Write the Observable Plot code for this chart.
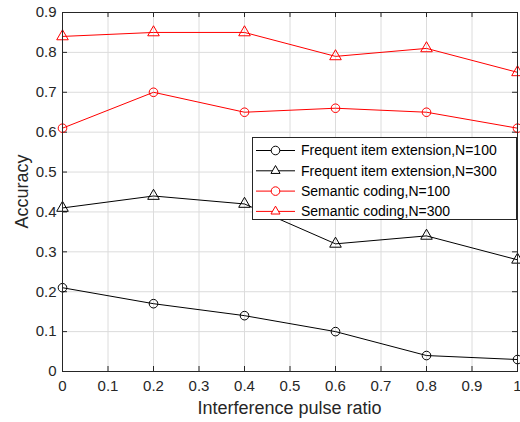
<!DOCTYPE html>
<html><head><meta charset="utf-8">
<script src="https://cdn.jsdelivr.net/npm/d3@7"></script>
<script src="https://cdn.jsdelivr.net/npm/@observablehq/plot@0.6"></script>
<style>body{margin:0;background:#fff;font-family:"Liberation Sans",Arial,sans-serif}</style>
</head><body><div id="chart"></div>
<script>
const ratios = [0, 0.2, 0.4, 0.6, 0.8, 1];
const freqN100 = [0.21, 0.17, 0.14, 0.10, 0.04, 0.03];
const freqN300 = [0.41, 0.44, 0.42, 0.32, 0.34, 0.28];
const semN100 = [0.61, 0.70, 0.65, 0.66, 0.65, 0.61];
const semN300 = [0.84, 0.85, 0.85, 0.79, 0.81, 0.75];
const seriesNames = ["Frequent item extension,N=100","Frequent item extension,N=300","Semantic coding,N=100","Semantic coding,N=300"];
const seriesColors = ["#000000","#000000","#ff0000","#ff0000"];
const seriesSymbols = ["circle","triangle","circle","triangle"];
const xTicks = [0,0.1,0.2,0.3,0.4,0.5,0.6,0.7,0.8,0.9,1];
const yTicks = [0,0.1,0.2,0.3,0.4,0.5,0.6,0.7,0.8,0.9];

const allSeries = [freqN100, freqN300, semN100, semN300];
const rows = [];
allSeries.forEach((vals, s) => vals.forEach((v, i) => rows.push({series: seriesNames[s], x: ratios[i], y: v, color: seriesColors[s], symbol: seriesSymbols[s]})));

const W = 520, H = 422, mL = 62, mR = 3, mT = 12, mB = 51;
const axisColor = "#262626";
const plotH = H - mT - mB;
const plotW = W - mL - mR;

const chart = Plot.plot({
  width: W, height: H,
  marginLeft: mL, marginRight: mR, marginTop: mT, marginBottom: mB,
  style: {fontFamily: '"Liberation Sans", Arial, sans-serif', background: "white"},
  x: {domain: [0, 1], ticks: xTicks},
  y: {domain: [0, 0.9], ticks: yTicks},
  marks: [
    Plot.gridX(xTicks, {stroke: "#dcdcdc", strokeOpacity: 1, strokeWidth: 1}),
    Plot.gridY(yTicks, {stroke: "#dcdcdc", strokeOpacity: 1, strokeWidth: 1}),
    Plot.tickX(xTicks, {x: d => d, insetTop: plotH - 5, stroke: axisColor}),
    Plot.tickX(xTicks, {x: d => d, insetBottom: plotH - 5, stroke: axisColor}),
    Plot.tickY(yTicks, {y: d => d, insetRight: plotW - 5, stroke: axisColor}),
    Plot.tickY(yTicks, {y: d => d, insetLeft: plotW - 5, stroke: axisColor}),
    Plot.line(rows, {x: "x", y: "y", z: "series", stroke: "color", strokeWidth: 1}),
    Plot.dot(rows, {x: "x", y: "y", symbol: "symbol", stroke: "color", fill: "none", r: 4.3, strokeWidth: 1}),
    Plot.frame({stroke: axisColor, strokeWidth: 1}),
    Plot.axisX(xTicks, {tickSize: 0, tickPadding: 9, fontSize: 15, color: axisColor, label: null, tickFormat: d => d3.format("")(d)}),
    Plot.axisY(yTicks, {tickSize: 0, tickPadding: 6, fontSize: 15, color: axisColor, label: null, tickFormat: d => d3.format("")(d)})
  ]
});
document.getElementById("chart").appendChild(chart);

const svg = d3.select(chart);
svg.append("text").attr("x", mL + plotW / 2).attr("y", 414).attr("text-anchor", "middle")
  .attr("font-size", 18).attr("fill", axisColor).text("Interference pulse ratio");
svg.append("text").attr("transform", `translate(28,${mT + plotH / 2}) rotate(-90)`).attr("text-anchor", "middle")
  .attr("font-size", 18).attr("fill", axisColor).text("Accuracy");

// legend
const lg = svg.append("g").attr("text-anchor", "start");
lg.append("rect").attr("x", 252.5).attr("y", 137.5).attr("width", 264).attr("height", 82)
  .attr("fill", "white").attr("stroke", axisColor).attr("stroke-width", 1);
const sym = {circle: d3.symbol(d3.symbolCircle, Math.PI * 4.3 * 4.3), triangle: d3.symbol(d3.symbolTriangle2, 4.3 * 4.3 * 3.2)};
seriesNames.forEach((name, i) => {
  const cy = 150.5 + i * 20.3;
  lg.append("line").attr("x1", 256).attr("x2", 295).attr("y1", cy).attr("y2", cy).attr("stroke", seriesColors[i]);
  lg.append("path").attr("d", sym[seriesSymbols[i]]()).attr("transform", `translate(275.5,${cy})`)
    .attr("fill", "white").attr("stroke", seriesColors[i]);
  lg.append("text").attr("x", 301).attr("y", cy).attr("dy", "0.35em").attr("font-size", 14).attr("fill", "#000").text(name);
});
</script></body></html>
